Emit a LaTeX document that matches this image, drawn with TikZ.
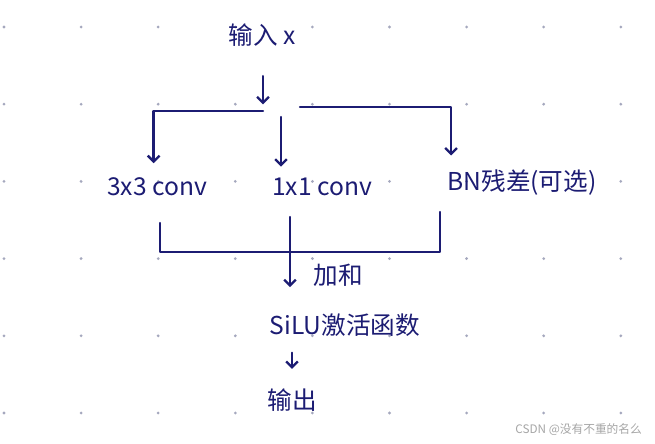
\documentclass[tikz,border=0pt]{standalone}
\usepackage{fontspec}
\setmainfont{Noto Sans CJK SC}
\usetikzlibrary{arrows.meta,positioning}
\definecolor{inkblue}{RGB}{28,28,115}
\definecolor{dotgray}{RGB}{165,168,190}

\begin{document}
\begin{tikzpicture}[x=0.03cm,y=-0.03cm,
    txt/.style={text=inkblue,font=\fontsize{21}{24}\selectfont,inner sep=1pt},
    pen/.style={draw=inkblue,line width=2pt,line cap=round,line join=round},
    arr/.style={pen,-{Straight Barb[length=5pt,width=10pt]}}]
  \useasboundingbox[fill=white] (0,0) rectangle (655,443);
  % dot grid
  \foreach \i in {0,...,8}
    \foreach \j in {0,...,5}
      \fill[dotgray] (4+77.1*\i,27+77.2*\j) circle[radius=1.3pt];
  % texts
  \node[txt] (in)  at (262,35)  {输入 x};
  \node[txt] (c3)  at (157,187) {3x3 conv};
  \node[txt] (c1)  at (322,187) {1x1 conv};
  \node[txt] (bn)  at (522,183) {BN残差(可选)};
  \node[txt] (add) at (338,275) {加和};
  \node[txt] (act) at (345,325) {SiLU激活函数};
  \node[txt] (out) at (292,400) {输出};
  \node[anchor=east,text=gray!70,font=\fontsize{10}{12}\selectfont] (mark)
    at (646,430) {CSDN @没有不重的名么};
  % split
  \coordinate (split) at (263,111);
  \coordinate (mid)   at (281,117);
  \coordinate (rgo)   at (300,107);
  \draw[arr,shorten <=0.85cm,shorten >=0.2cm] (in.south -| split) -- (split);
  \draw[arr,shorten >=0.4cm] (split) -| ([xshift=-0.1cm]c3.north);
  \draw[arr,shorten >=0.3cm] (mid) -- (mid |- c1.north);
  \draw[arr,shorten >=0.4cm] (rgo) -| ([xshift=0.15cm]bn.north west);
  % sum
  \coordinate (jl)  at (160,223);
  \coordinate (jr)  at (440,212);
  \coordinate (jm)  at (290,217);
  \coordinate (sum) at (290,252);
  \draw[pen] (jl) |- (sum) -| (jr);
  \draw[arr,shorten >=0.75cm] (jm) -- (jm |- act.north);
  \draw[arr,shorten <=0.45cm,shorten >=0.55cm] (act.south -| out) -- (out.north);
\end{tikzpicture}
\end{document}
